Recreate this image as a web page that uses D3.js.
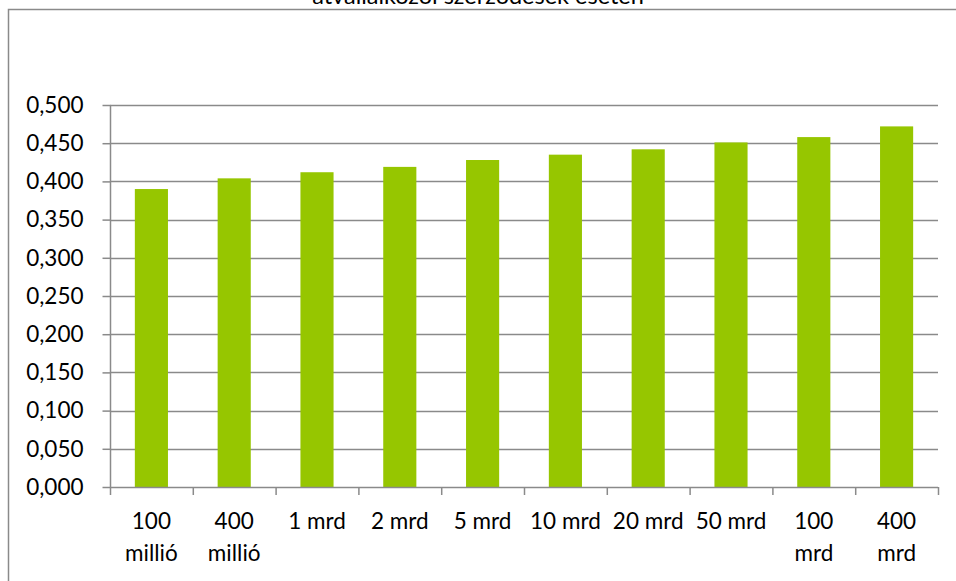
<!DOCTYPE html>
<html>
<head>
<meta charset="utf-8">
<script src="https://cdn.jsdelivr.net/npm/d3@7"></script>
<style>
  html, body { margin: 0; padding: 0; background: #fff; }
  svg { display: block; }
  text { font-family: Lato, "Open Sans", sans-serif; fill: #000; }
</style>
</head>
<body>
<svg id="chart" width="956" height="581"></svg>
<script>
// Category labels (line breaks mark where the axis label wraps)
const categories = ["100\nmillió", "400\nmillió", "1 mrd", "2 mrd", "5 mrd",
                    "10 mrd", "20 mrd", "50 mrd", "100\nmrd", "400\nmrd"];
// Bar values
const values = [0.390, 0.404, 0.412, 0.419, 0.428, 0.435, 0.442, 0.451, 0.458, 0.472];
// Y-axis ticks
const yTicks = [0, 0.05, 0.10, 0.15, 0.20, 0.25, 0.30, 0.35, 0.40, 0.45, 0.50];
const titleText = "átvállalkozói szerződések esetén";

const W = 956, H = 581;
const plot = { left: 110, right: 938, top: 105, bottom: 487 };
const fontSize = 22.5;
const svg = d3.select("#chart");
const grey = "#8a8a8a";

// Chart frame (only top and left edges fall inside the window)
svg.append("path")
  .attr("d", `M8.5,${H} L8.5,9.5 L${W},9.5`)
  .attr("fill", "none").attr("stroke", grey).attr("stroke-width", 1.5);

// Title, mostly above the visible area
svg.append("text")
  .attr("x", 478).attr("y", 4)
  .attr("text-anchor", "middle")
  .attr("font-size", 23.5)
  .text(titleText);

const x = d3.scaleBand().domain(categories).range([plot.left, plot.right]).paddingInner(0.6).paddingOuter(0.3);
const xBand = d3.scaleBand().domain(categories).range([plot.left, plot.right]);
const y = d3.scaleLinear().domain([0, 0.5]).range([plot.bottom, plot.top]);

// Gridlines
svg.append("g").selectAll("line").data(yTicks.slice(1)).join("line")
  .attr("x1", plot.left).attr("x2", plot.right)
  .attr("y1", d => Math.round(y(d)) + 0.5).attr("y2", d => Math.round(y(d)) + 0.5)
  .attr("stroke", grey).attr("stroke-width", 1.5);

// Bars
svg.append("g").selectAll("rect").data(values).join("rect")
  .attr("x", (d, i) => x(categories[i]))
  .attr("width", x.bandwidth())
  .attr("y", d => y(d))
  .attr("height", d => plot.bottom - y(d))
  .attr("fill", "#96c600");

// Y axis
const yAxis = d3.axisLeft(y).tickValues(yTicks).tickSize(8).tickPadding(19)
  .tickFormat(d => d3.format(".3f")(d).replace(".", ","));
const gy = svg.append("g").attr("transform", `translate(${plot.left + 0.5},0)`).call(yAxis);
gy.select(".domain").remove();
gy.append("line").attr("x1", 0).attr("x2", 0).attr("y1", plot.top).attr("y2", plot.bottom)
  .attr("stroke", grey).attr("stroke-width", 1.5);
gy.selectAll(".tick line").attr("stroke", grey).attr("stroke-width", 1.5);
gy.selectAll(".tick text").attr("font-size", fontSize).attr("font-family", "Lato, sans-serif").attr("fill", "#000");

// X axis: baseline and boundary ticks
const boundaries = categories.map(c => xBand(c)).concat([plot.right]);
const gx = svg.append("g");
gx.append("line").attr("x1", plot.left).attr("x2", plot.right)
  .attr("y1", plot.bottom + 0.5).attr("y2", plot.bottom + 0.5)
  .attr("stroke", grey).attr("stroke-width", 1.5);
gx.selectAll("line.tk").data(boundaries).join("line").attr("class", "tk")
  .attr("x1", d => d + 0.5).attr("x2", d => d + 0.5)
  .attr("y1", plot.bottom).attr("y2", plot.bottom + 8)
  .attr("stroke", grey).attr("stroke-width", 1.5);

// Category labels
const lbl = gx.selectAll("text.cat").data(categories).join("text").attr("class", "cat")
  .attr("text-anchor", "middle")
  .attr("font-size", fontSize)
  .attr("transform", d => `translate(${xBand(d) + xBand.bandwidth() / 2},${plot.bottom + 42})`);
lbl.selectAll("tspan").data(d => d.split("\n")).join("tspan")
  .attr("x", 0).attr("dy", (d, i) => i === 0 ? 0 : 32)
  .text(d => d);
</script>
</body>
</html>
